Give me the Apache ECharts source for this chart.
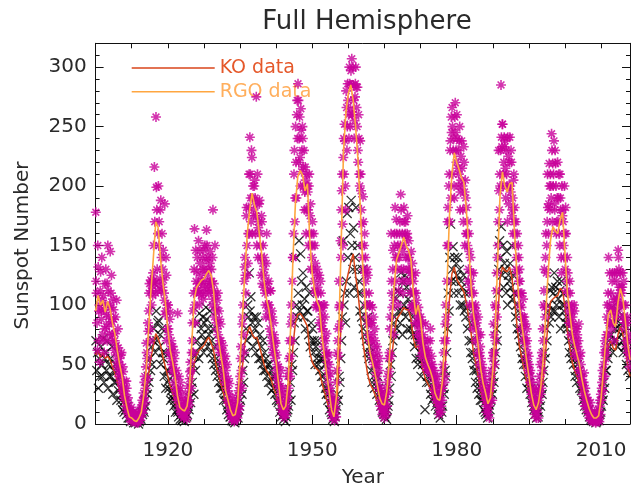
<!DOCTYPE html>
<html><head><meta charset="utf-8">
<script src="https://cdn.jsdelivr.net/npm/echarts@6/dist/echarts.min.js"></script>
<style>html,body{margin:0;padding:0;background:#fff}#c{width:631px;height:488px}</style>
</head><body><div id="c"></div><script>
// ---------- DATA ----------
const startYear = 1905;          // scatter: 6 readings per year (bi-monthly), 1905..2015
const perYear = 6;
const rgoScatter = [
178,110,62,132,95,52, 128,88,104,70,96,80, 100,82,118,150,90,76, 145,110,86,70,96,62,
76,58,104,48,64,40, 50,35,60,28,44,22, 30,20,36,12,22,8, 6,12,2,8,4,10,
3,8,1,5,2,6, 4,10,6,14,20,12, 22,40,30,68,55,85, 95,118,70,112,120,108,
150,216,118,258,180,112, 200,170,122,188,140,115, 146,110,185,95,125,80, 100,75,88,60,70,50,
65,45,55,30,40,25, 93,28,15,35,10,20, 8,15,5,12,18,10, 14,26,20,38,52,45,
70,95,110,164,85,120, 128,112,154,100,135,118, 120,140,105,130,150,115, 163,125,140,110,135,120,
130,100,180,118,90,108, 98,80,110,65,88,60, 70,52,62,40,55,35, 45,30,20,38,25,12,
15,8,22,5,10,3, 6,12,20,8,28,15, 40,65,30,90,75,120, 140,110,182,125,160,210,
241,190,230,160,200,175, 205,160,275,185,140,170, 188,150,125,170,135,115, 140,110,90,160,118,100,
100,80,112,70,90,60, 75,55,68,40,50,32, 40,20,30,12,25,8, 10,5,18,8,14,22,
30,55,40,84,70,120, 140,210,170,250,190,272, 286,220,258,200,247,230, 240,200,180,216,160,210,
195,150,210,175,130,160, 170,130,120,150,110,100, 130,110,100,85,120,90, 95,80,65,100,70,60,
60,45,35,50,30,25, 10,5,18,8,12,20, 35,60,80,120,100,154, 180,210,150,240,252,200,
280,230,286,260,300,250, 297,307,260,285,240,275, 300,266,283,220,240,200, 210,180,150,191,130,160,
140,110,90,125,75,100, 100,70,85,55,90,65, 70,50,40,60,35,45, 30,15,25,8,18,12,
10,20,30,15,40,55, 60,90,160,110,130,75, 150,182,120,160,140,100, 140,170,193,130,160,110,
182,150,170,120,160,140, 154,130,110,145,100,125, 120,100,85,110,95,75, 98,80,70,90,65,85,
75,60,50,84,55,45, 70,55,45,80,50,40, 45,30,25,40,20,35, 25,15,8,20,10,30,
30,50,70,40,100,90, 150,182,200,170,238,258, 266,210,240,190,270,230, 260,215,200,238,180,225,
238,200,170,220,150,190, 182,150,120,160,100,140, 127,100,80,110,90,70, 95,80,60,75,50,65,
55,40,30,45,25,35, 20,10,25,8,15,30, 30,45,20,60,75,50, 70,112,90,150,230,180,
200,285,233,252,210,241, 238,190,210,170,225,200, 241,195,220,180,160,210, 182,150,130,160,110,140,
130,100,80,110,90,70, 90,70,55,80,60,45, 50,35,40,25,30,18, 15,8,20,5,12,25,
20,35,50,30,60,80, 100,130,90,160,150,210, 160,219,180,200,244,170, 200,238,180,219,160,190,
170,210,150,190,140,200, 180,150,200,130,160,120, 127,100,85,110,75,95, 90,70,100,60,80,65,
75,55,84,45,60,40, 40,25,35,20,30,15, 20,10,15,5,12,8, 5,2,8,3,6,1,
2,5,10,4,15,8, 20,35,28,50,40,65, 60,90,75,140,100,85, 110,80,127,95,70,100,
90,120,105,146,130,110, 127,100,115,90,120,80, 100,70,85,60,75,55
];
// second set of readings, offset by one month inside each bi-monthly slot
const rgoScatterB = [
120,85,150,70,100,112, 95,140,75,108,60,118, 130,92,70,112,84,100, 98,125,75,105,88,70,
90,66,52,80,45,55, 42,58,32,48,26,36, 25,15,30,10,18,12, 10,4,14,6,3,8,
5,2,9,4,1,3, 8,3,12,16,9,26, 35,18,48,60,38,78, 110,80,121,100,116,127,
121,170,110,199,130,160, 150,118,180,112,160,130, 121,104,92,140,70,100, 80,60,94,55,65,44,
50,35,60,28,45,20, 22,40,12,30,8,25, 12,6,16,9,20,4, 20,32,16,44,30,60,
85,60,130,100,146,112, 140,118,110,146,125,108, 112,130,146,120,110,138, 150,115,130,118,145,112,
120,140,105,112,150,95, 85,104,75,95,70,84, 60,45,66,50,40,57, 35,50,28,18,34,8,
12,4,18,9,2,14, 10,16,5,24,12,33, 55,45,84,100,60,132, 125,175,150,135,182,160,
210,170,224,190,180,200, 190,175,150,210,165,185, 160,140,175,118,150,130, 125,100,135,112,95,120,
90,112,75,95,65,85, 62,70,45,58,38,48, 34,25,45,18,30,12, 15,8,12,20,26,40,
45,70,57,100,90,140, 160,230,190,220,260,240, 272,240,224,265,212,250, 216,230,195,205,180,200,
180,200,160,185,150,140, 150,160,112,135,98,125, 115,100,125,98,110,80, 85,100,72,90,57,76,
52,40,58,28,42,20, 15,8,22,3,14,6, 45,70,57,98,84,140, 196,168,224,210,238,180,
266,250,272,240,286,265, 285,260,300,272,255,286, 283,250,230,260,210,238, 196,168,140,170,150,127,
120,100,130,84,110,70, 85,60,98,75,50,80, 57,43,65,50,30,55, 20,28,12,22,15,5,
14,25,8,35,26,44, 80,57,120,98,146,104, 160,140,172,130,150,112, 160,150,180,120,145,130,
170,160,140,157,175,130, 140,120,127,98,135,112, 110,95,127,104,84,90, 90,75,84,57,70,60,
65,70,55,62,48,60, 62,48,70,43,57,50, 38,45,28,33,22,40, 18,30,12,25,15,20,
45,60,35,84,70,120, 170,150,210,230,190,245, 250,230,200,258,245,220, 240,230,210,250,195,205,
215,180,233,195,205,160, 160,170,130,145,115,120, 110,90,127,98,84,100, 85,70,90,57,60,75,
45,50,35,40,30,20, 15,25,12,28,5,20, 40,35,55,84,60,100, 98,127,140,170,196,210,
230,241,252,200,220,233, 215,230,200,241,185,220, 200,230,175,190,205,170, 160,170,140,127,150,120,
120,110,98,90,105,84, 75,84,65,70,50,57, 43,45,28,35,22,29, 20,12,28,10,18,5,
29,40,25,55,45,70, 112,98,140,127,170,182, 185,200,210,190,230,219, 210,185,230,200,170,220,
190,160,210,180,127,175, 170,140,160,182,112,140, 110,95,120,90,84,100, 84,75,95,57,70,80,
65,70,45,57,50,35, 35,30,43,15,25,22, 15,20,8,10,18,3, 8,4,2,10,5,3,
6,3,12,2,20,25, 30,45,40,60,70,55, 75,100,110,85,127,95, 95,120,85,105,127,90,
105,127,95,140,115,100, 115,110,127,100,90,85, 85,65,90,70,60,48
];
const koScatter = [
70,45,60,30,55,40, 65,50,40,72,35,55, 60,45,70,30,50,40, 55,40,65,25,45,35,
50,35,20,45,28,40, 30,20,25,12,18,10, 20,12,8,15,5,10, 5,2,8,3,6,1,
3,1,5,2,4,0, 2,6,4,10,8,12, 10,20,15,30,25,40, 35,55,45,65,50,70,
80,118,60,95,70,85, 87,65,75,50,80,60, 55,40,60,30,45,35, 45,30,38,20,28,22,
25,15,20,10,18,12, 10,6,12,4,8,3, 4,7,2,5,9,6, 8,15,12,22,18,30,
35,50,25,57,45,60, 70,85,55,93,65,80, 75,90,60,85,70,98, 88,65,80,75,95,60,
70,55,80,50,65,45, 55,40,50,35,45,30, 40,30,35,20,28,25, 20,12,16,8,14,6,
6,3,8,2,5,1, 3,6,10,5,12,15, 20,30,25,45,35,55, 60,80,70,100,90,127,
95,107,75,85,65,90, 80,60,90,70,85,55, 75,55,65,50,70,45, 60,45,55,40,50,35,
50,35,45,28,40,30, 40,25,35,20,30,18, 20,10,15,6,12,8, 4,8,2,6,10,12,
15,25,35,20,50,45, 60,85,70,140,100,90, 110,154,95,143,120,100, 127,90,105,80,115,95,
95,75,110,65,85,70, 80,60,70,50,65,55, 70,50,60,45,55,40, 55,40,35,50,30,25,
30,20,25,12,18,10, 8,4,10,2,6,12, 15,25,20,40,35,55, 70,90,154,100,110,85,
120,177,140,182,110,160, 188,150,130,165,115,140, 182,130,150,110,120,95, 110,90,130,80,100,75,
85,70,60,90,55,65, 60,45,35,55,40,30, 50,35,25,40,30,20, 25,15,20,10,12,8,
6,10,4,12,15,20, 30,50,40,60,70,85, 90,75,105,80,112,95, 110,85,127,95,75,120,
100,125,90,115,80,105, 95,110,80,100,75,90, 84,65,75,55,70,50, 70,55,60,40,65,50,
55,45,12,50,35,40, 48,35,40,25,30,20, 35,22,28,15,25,18, 12,8,20,5,15,10,
15,30,25,45,40,60, 80,110,95,140,168,120, 130,149,110,140,120,135, 125,140,110,130,100,120,
115,100,125,95,110,90, 98,80,110,70,85,60, 70,55,60,45,50,35, 45,30,40,25,35,20,
30,20,25,12,18,10, 8,14,5,10,16,12, 20,30,25,40,35,50, 60,80,70,110,130,154,
140,166,125,150,115,135, 130,110,145,100,125,120, 135,115,150,105,125,110, 110,90,100,80,95,75,
80,65,70,55,60,50, 55,40,50,30,45,35, 35,25,30,18,22,15, 12,8,15,5,10,6,
10,20,15,30,25,35, 45,60,55,80,70,95, 100,85,112,90,115,95, 110,127,95,115,100,120,
105,90,112,80,120,100, 110,95,100,85,90,80, 84,70,60,75,55,65, 60,50,55,40,45,35,
50,40,45,30,38,28, 30,20,25,15,18,12, 15,10,12,6,8,4, 3,5,2,4,6,1,
2,4,6,3,8,10, 15,25,20,35,30,45, 45,60,55,70,65,84, 75,98,60,85,70,80,
70,85,65,95,80,90, 84,75,70,60,78,65, 65,50,60,45,55,40
];
const lineStart = 1905;          // smoothed curves: half-year steps 1905.0..2016.0
const lineStep = 0.5;
const rgoSmooth = [
95,108, 100,104, 94,103, 97,85, 76,62, 50,40, 24,14, 6,5, 3,2, 5,10,
24,45, 79,112, 140,170, 165,138, 118,102, 80,62, 52,40, 24,14, 12,11, 15,30,
70,105, 115,118, 121,122, 126,129, 125,112, 88,72, 58,46, 28,20, 12,7, 8,18,
52,90, 127,160, 180,194, 184,178, 160,143, 120,105, 96,82, 66,52, 34,17, 12,15,
35,80, 140,185, 208,213, 209,196, 202,154, 126,112, 103,98, 75,58, 42,28, 12,6,
22,75, 150,230, 262,278, 285,272, 250,222, 180,132, 100,74, 60,52, 43,33, 22,17,
16,28, 54,85, 115,138, 144,150, 157,150, 146,138, 110,92, 100,88, 68,56, 50,45,
38,26, 21,20, 35,68, 118,175, 210,228, 220,214, 207,203, 180,150, 115,92, 80,65,
46,34, 26,17, 22,45, 80,135, 192,212, 200,195, 202,203, 162,128, 100,84, 70,54,
40,26, 16,12, 18,32, 56,92, 128,155, 166,162, 160,172, 178,143, 110,93, 76,66,
58,50, 38,28, 20,13, 8,5, 5,7, 22,46, 72,92, 96,85, 82,102, 114,106,
88,68, 54
];
const koSmooth = [
58,62, 56,60, 55,57, 54,48, 43,36, 28,22, 14,8, 4,3, 2,1, 3,6,
14,25, 42,56, 66,76, 72,66, 56,48, 40,32, 26,20, 13,8, 6,6, 8,16,
36,52, 58,62, 64,66, 70,73, 68,62, 50,42, 34,27, 17,12, 7,4, 5,10,
28,48, 68,76, 82,76, 72,73, 66,58, 50,45, 42,37, 30,24, 16,9, 6,8,
18,40, 66,85, 92,93, 90,86, 82,60, 52,48, 46,44, 35,27, 20,13, 6,3,
12,45, 84,108, 118,127, 136,143, 125,110, 90,70, 55,42, 34,30, 25,19, 13,10,
10,17, 34,55, 75,88, 91,94, 98,96, 96,88, 72,64, 66,58, 45,38, 34,30,
25,17, 13,13, 22,42, 72,105, 126,132, 122,118, 115,111, 102,90, 76,60, 50,40,
28,20, 15,10, 13,28, 50,86, 122,132, 129,128, 132,122, 105,84, 66,56, 46,36,
27,18, 11,8, 12,22, 38,62, 86,103, 105,107, 108,114, 112,98, 78,64, 52,45,
40,34, 26,19, 14,9, 5,3, 3,5, 16,34, 52,66, 70,64, 62,75, 82,76,
64,50, 40
];
const xLabelYears = [1920, 1950, 1980, 2010];
const yLabelValues = [0, 50, 100, 150, 200, 250, 300];
const titleText = 'Full Hemisphere';
const xName = 'Year';
const yName = 'Sunspot Number';
const koName = 'KO data';
const rgoName = 'RGO data';

// ---------- BUILD ----------
const FONT = 'DejaVu Sans';
const TXT = '#2a2a2a';
const C_MAG = '#c8009a', C_KO = '#d9441a', C_RGO = '#ffa640', C_BLK = '#000';
const toScatter = (arr, off) => arr.map((v, i) => [startYear + (i + off) / perYear, v]);
const toLine = arr => arr.map((v, i) => [lineStart + i * lineStep, v]);
const magData = toScatter(rgoScatter, 0.25).concat(toScatter(rgoScatterB, 0.75));

const ASTERISK = 'path://M5 0L5 10M0 5L10 5M1.6 1.6L8.4 8.4M8.4 1.6L1.6 8.4';
const CROSS = 'path://M0 0L10 10M10 0L0 10';

const lineAx = {show: true, onZero: false, lineStyle: {color: '#111', width: 1}};
const noLine = {show: false, onZero: false};
const tick = len => ({show: true, inside: true, length: len, lineStyle: {color: '#111', width: 1}});
const gridBase = {containLabel: false, outerBoundsMode: 'none'};

const chart = echarts.init(document.getElementById('c'), null, {renderer: 'canvas'});
chart.setOption({
  animation: false,
  backgroundColor: '#fff',
  title: {text: titleText, left: 362, top: 4, textAlign: 'center',
    textStyle: {fontFamily: FONT, fontSize: 26, fontWeight: 'normal', color: TXT}},
  legend: [
    {data: [{name: koName, textStyle: {color: '#e5582a'}}], orient: 'vertical', left: 131.7, top: 52.5,
     padding: 0, icon: 'rect', itemWidth: 83, itemHeight: 1.5, selectedMode: false,
     textStyle: {fontFamily: FONT, fontSize: 19, lineHeight: 20, padding: [0, 0, 11, 0]}},
    {data: [{name: rgoName, textStyle: {color: '#ffae5c'}}], orient: 'vertical', left: 131.7, top: 76.3,
     padding: 0, icon: 'rect', itemWidth: 83, itemHeight: 1.5, selectedMode: false,
     textStyle: {fontFamily: FONT, fontSize: 19, lineHeight: 20, padding: [0, 0, 11, 0]}}
  ],
  grid: [
    Object.assign({left: 95.6, right: 1, top: 43.3, bottom: 64}, gridBase),     // main plot
    Object.assign({left: 167.9, right: 1, top: 43.3, bottom: 64}, gridBase),    // major x ticks from 1920
    Object.assign({left: 95.6, right: 1, top: 66.9, bottom: 64}, gridBase)      // major y ticks up to 300
  ],
  xAxis: [
    {gridIndex: 0, type: 'value', position: 'bottom', min: 1905, max: 2016, interval: 7.5,
     axisLine: lineAx, axisTick: tick(5), axisLabel: {show: false}, splitLine: {show: false},
     name: xName, nameLocation: 'middle', nameGap: 44,
     nameTextStyle: {fontFamily: FONT, fontSize: 20, color: TXT}},
    {gridIndex: 0, type: 'value', position: 'top', min: 1905, max: 2016, interval: 7.5,
     axisLine: lineAx, axisTick: tick(5), axisLabel: {show: false}, splitLine: {show: false}},
    {gridIndex: 1, type: 'value', position: 'bottom', min: 1920, max: 2016, interval: 30,
     axisLine: noLine, axisTick: tick(9), splitLine: {show: false},
     axisLabel: {show: true, margin: 17, fontFamily: FONT, fontSize: 20, color: TXT,
       formatter: v => xLabelYears.indexOf(v) >= 0 ? String(v) : ''}},
    {gridIndex: 2, type: 'value', show: false, min: 1905, max: 2016}
  ],
  yAxis: [
    {gridIndex: 0, type: 'value', position: 'left', min: 0, max: 320, interval: 10,
     axisLine: lineAx, axisTick: tick(4), axisLabel: {show: false}, splitLine: {show: false}},
    {gridIndex: 0, type: 'value', position: 'right', min: 0, max: 320, interval: 10,
     axisLine: lineAx, axisTick: tick(4), axisLabel: {show: false}, splitLine: {show: false}},
    {gridIndex: 1, type: 'value', show: false, min: 0, max: 320},
    {gridIndex: 2, type: 'value', position: 'left', min: 0, max: 300, interval: 50,
     axisLine: noLine, axisTick: tick(8), splitLine: {show: false},
     axisLabel: {show: true, margin: 9, fontFamily: FONT, fontSize: 20, color: TXT,
       formatter: v => yLabelValues.indexOf(v) >= 0 ? String(v) : ''},
     name: yName, nameLocation: 'middle', nameGap: 63,
     nameTextStyle: {fontFamily: FONT, fontSize: 20, color: TXT}},
    {gridIndex: 2, type: 'value', position: 'right', min: 0, max: 300, interval: 50,
     axisLine: noLine, axisTick: tick(8), axisLabel: {show: false}, splitLine: {show: false}}
  ],
  series: [
    {type: 'scatter', name: 'KO points', xAxisIndex: 0, yAxisIndex: 0, data: toScatter(koScatter, 0.5),
     symbol: CROSS, symbolSize: 9, silent: true, z: 2,
     itemStyle: {color: 'rgba(0,0,0,0)', borderColor: C_BLK, borderWidth: 1.3}},
    {type: 'line', name: koName, xAxisIndex: 0, yAxisIndex: 0, data: toLine(koSmooth),
     showSymbol: false, symbol: 'none', silent: true, z: 3, color: C_KO,
     itemStyle: {color: C_KO}, lineStyle: {color: C_KO, width: 1.5}},
    {type: 'scatter', name: 'RGO points', xAxisIndex: 0, yAxisIndex: 0, data: magData,
     symbol: ASTERISK, symbolSize: 10, silent: true, z: 4,
     itemStyle: {color: 'rgba(0,0,0,0)', borderColor: C_MAG, borderWidth: 1.6}},
    {type: 'line', name: rgoName, xAxisIndex: 0, yAxisIndex: 0, data: toLine(rgoSmooth),
     showSymbol: false, symbol: 'none', silent: true, z: 5, color: C_RGO,
     itemStyle: {color: C_RGO}, lineStyle: {color: C_RGO, width: 1.6}}
  ]
});
</script></body></html>
